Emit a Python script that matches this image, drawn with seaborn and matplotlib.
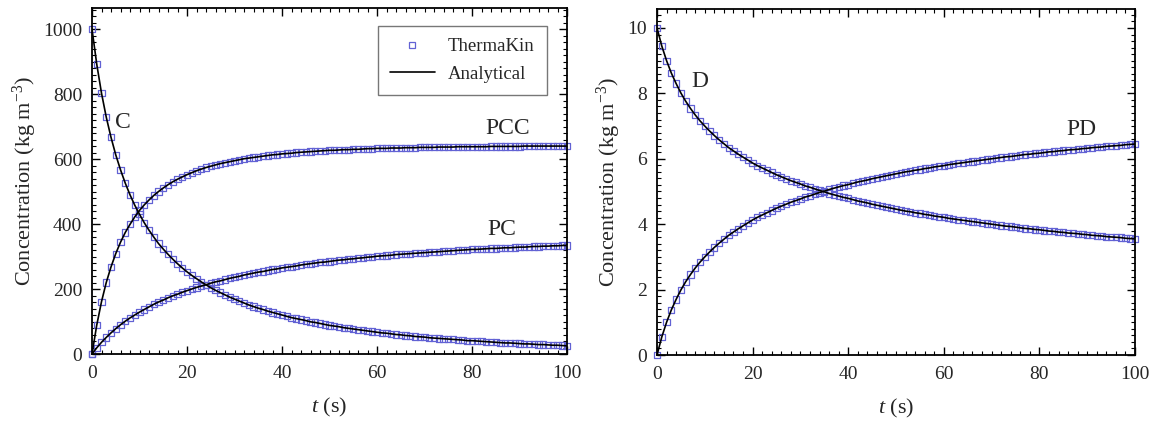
import numpy as np
import matplotlib
matplotlib.use("Agg")
import matplotlib.pyplot as plt
from matplotlib.ticker import MultipleLocator
from matplotlib.lines import Line2D
import seaborn as sns

# ---------------- data ----------------
t = np.arange(0, 101)

C = [1000, 892, 803, 729, 667, 613, 567, 526, 490, 458,
     430, 404, 381, 360, 340, 323, 307, 292, 278, 265,
     253, 242, 232, 222, 213, 204, 196, 189, 182, 175,
     169, 163, 157, 151, 146, 141, 137, 132, 128, 124,
     120, 116, 112, 109, 106, 103, 99, 97, 94, 91,
     88, 86, 84, 81, 79, 77, 75, 73, 71, 69,
     67, 65, 64, 62, 60, 59, 57, 56, 54, 53,
     52, 50, 49, 48, 47, 46, 45, 44, 43, 41,
     41, 40, 39, 38, 37, 36, 35, 34, 34, 33,
     32, 31, 31, 30, 29, 29, 28, 27, 27, 26,
     25]

PC = [0, 19, 36, 51, 65, 78, 90, 101, 111, 120,
      129, 137, 145, 153, 160, 166, 173, 179, 184, 190,
      195, 200, 205, 209, 213, 218, 222, 225, 229, 233,
      236, 239, 243, 246, 249, 252, 254, 257, 260, 262,
      265, 267, 269, 271, 274, 276, 278, 280, 282, 283,
      285, 287, 289, 290, 292, 293, 295, 296, 298, 299,
      301, 302, 303, 304, 306, 307, 308, 309, 310, 311,
      312, 313, 314, 315, 316, 317, 318, 319, 320, 321,
      322, 322, 323, 324, 325, 325, 326, 327, 327, 328,
      329, 329, 330, 331, 331, 332, 332, 333, 333, 334,
      334]

PCC = [0, 89, 161, 220, 268, 309, 344, 374, 399, 422,
       442, 459, 474, 488, 500, 511, 521, 530, 538, 545,
       552, 558, 564, 569, 574, 578, 582, 586, 589, 592,
       595, 598, 601, 603, 605, 607, 609, 611, 613, 614,
       616, 617, 618, 620, 621, 622, 623, 624, 625, 626,
       627, 627, 628, 629, 629, 630, 630, 631, 632, 632,
       633, 633, 633, 634, 634, 634, 635, 635, 635, 636,
       636, 636, 636, 637, 637, 637, 637, 638, 638, 638,
       638, 638, 638, 638, 639, 639, 639, 639, 639, 639,
       639, 640, 640, 640, 640, 640, 640, 640, 640, 640,
       640]

D = [10.00, 9.45, 9.00, 8.62, 8.30, 8.01, 7.76, 7.54, 7.34, 7.16,
     7.00, 6.85, 6.71, 6.58, 6.46, 6.34, 6.24, 6.14, 6.05, 5.96,
     5.87, 5.79, 5.72, 5.65, 5.58, 5.51, 5.45, 5.39, 5.33, 5.28,
     5.23, 5.17, 5.13, 5.08, 5.03, 4.99, 4.94, 4.90, 4.86, 4.82,
     4.79, 4.75, 4.71, 4.68, 4.65, 4.61, 4.58, 4.55, 4.52, 4.49,
     4.46, 4.43, 4.40, 4.38, 4.35, 4.33, 4.30, 4.28, 4.25, 4.23,
     4.21, 4.18, 4.16, 4.14, 4.12, 4.10, 4.08, 4.06, 4.04, 4.02,
     4.00, 3.98, 3.96, 3.94, 3.93, 3.91, 3.89, 3.87, 3.86, 3.84,
     3.83, 3.81, 3.79, 3.78, 3.76, 3.75, 3.73, 3.72, 3.71, 3.69,
     3.68, 3.66, 3.65, 3.64, 3.62, 3.61, 3.60, 3.59, 3.57, 3.56,
     3.55]

PD = [0.00, 0.55, 1.00, 1.38, 1.70, 1.99, 2.24, 2.46, 2.66, 2.84,
      3.00, 3.15, 3.29, 3.42, 3.54, 3.66, 3.76, 3.86, 3.95, 4.04,
      4.13, 4.21, 4.28, 4.35, 4.42, 4.49, 4.55, 4.61, 4.67, 4.72,
      4.77, 4.83, 4.87, 4.92, 4.97, 5.01, 5.06, 5.10, 5.14, 5.18,
      5.21, 5.25, 5.29, 5.32, 5.35, 5.39, 5.42, 5.45, 5.48, 5.51,
      5.54, 5.57, 5.60, 5.62, 5.65, 5.67, 5.70, 5.72, 5.75, 5.77,
      5.79, 5.82, 5.84, 5.86, 5.88, 5.90, 5.92, 5.94, 5.96, 5.98,
      6.00, 6.02, 6.04, 6.06, 6.07, 6.09, 6.11, 6.13, 6.14, 6.16,
      6.17, 6.19, 6.21, 6.22, 6.24, 6.25, 6.27, 6.28, 6.29, 6.31,
      6.32, 6.34, 6.35, 6.36, 6.38, 6.39, 6.40, 6.41, 6.43, 6.44,
      6.45]

left_series = [("C", C), ("PCC", PCC), ("PC", PC)]
right_series = [("D", D), ("PD", PD)]

left_labels = [("C", 6.5, 714), ("PCC", 87.6, 695), ("PC", 86.3, 382)]
right_labels = [("D", 9.0, 8.37), ("PD", 88.8, 6.89)]

legend_names = ["ThermaKin", "Analytical"]

# ---------------- style ----------------
sns.set_style("ticks")
plt.rcParams["font.family"] = ["Liberation Serif", "DejaVu Serif"]
plt.rcParams["mathtext.fontset"] = "custom"
plt.rcParams["mathtext.rm"] = "Liberation Serif"
plt.rcParams["mathtext.it"] = "Liberation Serif:italic"

MARKER_EC = "#6262d4"
TICK_FS = 14
LABEL_FS = 16
ANNOT_FS = 17

fig = plt.figure(figsize=(11.55, 4.23), dpi=100)
W, H = 1155, 423
axL = fig.add_axes([92 / W, 1 - 354 / H, (567 - 92) / W, (354 - 8) / H])
axR = fig.add_axes([657 / W, 1 - 355 / H, (1135 - 657) / W, (355 - 9) / H])


def draw(ax, series):
    for name, vals in series:
        sns.scatterplot(x=t, y=vals, ax=ax, marker="s", s=20,
                        facecolor="none", edgecolor=MARKER_EC, linewidth=0.9,
                        zorder=2, clip_on=False, legend=False)
        sns.lineplot(x=t, y=vals, ax=ax, color="black", linewidth=1.2,
                     zorder=3, legend=False)


draw(axL, left_series)
draw(axR, right_series)

for ax in (axL, axR):
    ax.set_xlim(0, 100)
    ax.xaxis.set_major_locator(MultipleLocator(20))
    ax.xaxis.set_minor_locator(MultipleLocator(2))
    ax.tick_params(which="both", direction="in", top=True, right=True,
                   labelsize=TICK_FS, color="black")
    ax.tick_params(which="major", length=6, width=1.0)
    ax.tick_params(which="minor", length=3, width=0.8)
    ax.tick_params(axis="x", pad=8)
    ax.tick_params(axis="y", pad=7)
    for sp in ax.spines.values():
        sp.set_visible(True)
        sp.set_linewidth(1.3)
        sp.set_color("black")
    ax.set_xlabel("$t$ (s)", fontsize=LABEL_FS, labelpad=10)
    ax.set_ylabel("Concentration (kg m$^{-3}$)", fontsize=LABEL_FS, labelpad=3)

axL.set_ylim(0, 1065)
axL.yaxis.set_major_locator(MultipleLocator(200))
axL.yaxis.set_minor_locator(MultipleLocator(20))

axR.set_ylim(0, 10.58)
axR.yaxis.set_major_locator(MultipleLocator(2))
axR.yaxis.set_minor_locator(MultipleLocator(0.2))

for name, x, y in left_labels:
    axL.text(x, y, name, fontsize=ANNOT_FS, ha="center", va="center")
for name, x, y in right_labels:
    axR.text(x, y, name, fontsize=ANNOT_FS, ha="center", va="center")

handles = [
    Line2D([], [], linestyle="none", marker="s", markersize=4.5,
           markerfacecolor="none", markeredgecolor=MARKER_EC, markeredgewidth=0.9),
    Line2D([], [], color="black", linewidth=1.2),
]
leg = axL.legend(handles, legend_names, loc="upper right",
                 bbox_to_anchor=(0.958, 0.948), frameon=True, fancybox=False,
                 edgecolor="#555555", fontsize=13.5, borderaxespad=0,
                 handlelength=2.4, handletextpad=0.7, borderpad=0.65,
                 labelspacing=0.55)
leg.get_frame().set_linewidth(1.0)

fig.savefig("out.png", dpi=100)
